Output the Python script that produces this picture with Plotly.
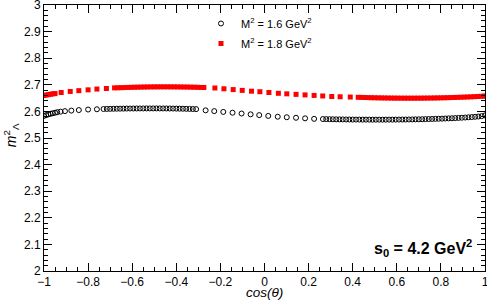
import plotly.graph_objects as go

# M^2 = 1.6 GeV^2 (black open circles)
cos_16 = [-1.00, -0.99, -0.98, -0.97, -0.96, -0.95, -0.94,
          -0.925, -0.905, -0.876, -0.842, -0.80, -0.76,
          -0.73, -0.715, -0.70, -0.685, -0.67, -0.655, -0.64, -0.625, -0.61, -0.595,
          -0.58, -0.565, -0.55, -0.535, -0.52, -0.505, -0.49, -0.475, -0.46, -0.445,
          -0.43, -0.415, -0.40, -0.385, -0.37, -0.355, -0.34, -0.325, -0.31,
          -0.267, -0.228, -0.187, -0.145, -0.104, -0.063, -0.024, 0.017, 0.060, 0.101,
          0.143, 0.184, 0.225,
          0.265, 0.28, 0.295, 0.31, 0.325, 0.34, 0.355, 0.37, 0.385, 0.40,
          0.415, 0.43, 0.445, 0.46, 0.475, 0.49, 0.505, 0.52, 0.535, 0.55,
          0.565, 0.58, 0.595, 0.61, 0.625, 0.64, 0.655, 0.67, 0.685, 0.70,
          0.715, 0.73, 0.745, 0.76, 0.775, 0.79, 0.805, 0.82, 0.835, 0.85,
          0.865, 0.88, 0.895, 0.91, 0.925, 0.94, 0.955, 0.97, 0.985, 1.0]
m2_16 = [2.583, 2.586, 2.589, 2.591, 2.593, 2.595, 2.597,
         2.599, 2.601, 2.603, 2.605, 2.607, 2.608,
         2.6090, 2.6093, 2.6096, 2.6099, 2.6101, 2.6103, 2.6105, 2.6107, 2.6108, 2.6109,
         2.6110, 2.6111, 2.6111, 2.6112, 2.6112, 2.6112, 2.6112, 2.6111, 2.6111, 2.6110,
         2.6109, 2.6107, 2.6105, 2.6103, 2.6100, 2.6097, 2.6094, 2.6090, 2.6086,
         2.604, 2.601, 2.598, 2.595, 2.592, 2.589, 2.586, 2.583, 2.580, 2.578,
         2.576, 2.574, 2.572,
         2.5712, 2.5709, 2.5706, 2.5704, 2.5702, 2.5700, 2.5698, 2.5697, 2.5695, 2.5694,
         2.5693, 2.5692, 2.5691, 2.5691, 2.5690, 2.5690, 2.5690, 2.5690, 2.5690, 2.5690,
         2.5691, 2.5691, 2.5692, 2.5693, 2.5694, 2.5695, 2.5697, 2.5699, 2.5701, 2.5703,
         2.5706, 2.5709, 2.5712, 2.5716, 2.5720, 2.5724, 2.5728, 2.5733, 2.5738, 2.5743,
         2.5749, 2.5755, 2.5762, 2.5770, 2.5778, 2.5787, 2.5797, 2.5808, 2.5822, 2.5850]

# M^2 = 1.8 GeV^2 (red squares)
cos_18 = [-1.00, -0.99, -0.98, -0.97, -0.96, -0.95,
          -0.922, -0.881, -0.842, -0.800, -0.760, -0.717,
          -0.68, -0.665, -0.65, -0.635, -0.62, -0.605, -0.59, -0.575, -0.56, -0.545,
          -0.53, -0.515, -0.50, -0.485, -0.47, -0.455, -0.44, -0.425, -0.41, -0.395,
          -0.38, -0.365, -0.35, -0.335, -0.32, -0.305, -0.29, -0.275,
          -0.225, -0.184, -0.142, -0.101, -0.059, -0.021, 0.020, 0.063, 0.101, 0.143,
          0.184, 0.225, 0.264, 0.305, 0.343, 0.389,
          0.425, 0.44, 0.455, 0.47, 0.485, 0.50, 0.515, 0.53, 0.545, 0.56,
          0.575, 0.59, 0.605, 0.62, 0.635, 0.65, 0.665, 0.68, 0.695, 0.71,
          0.725, 0.74, 0.755, 0.77, 0.785, 0.80, 0.815, 0.83, 0.845, 0.86,
          0.875, 0.89, 0.905, 0.92, 0.935, 0.95, 0.965, 0.98, 0.995, 1.0]
m2_18 = [2.660, 2.6615, 2.663, 2.6645, 2.666, 2.667,
         2.671, 2.675, 2.678, 2.681, 2.684, 2.686,
         2.6885, 2.6889, 2.6893, 2.6897, 2.6901, 2.6905, 2.6908, 2.6911, 2.6914, 2.6917,
         2.6919, 2.6921, 2.6922, 2.6923, 2.6924, 2.6924, 2.6924, 2.6923, 2.6922, 2.6921,
         2.6919, 2.6917, 2.6915, 2.6912, 2.6909, 2.6906, 2.6902, 2.6898,
         2.688, 2.685, 2.682, 2.679, 2.676, 2.674, 2.671, 2.668, 2.666, 2.664,
         2.662, 2.660, 2.658, 2.656, 2.655, 2.654,
         2.6530, 2.6526, 2.6522, 2.6518, 2.6515, 2.6512, 2.6509, 2.6507, 2.6505, 2.6503,
         2.6501, 2.6500, 2.6499, 2.6498, 2.6497, 2.6497, 2.6497, 2.6497, 2.6498, 2.6499,
         2.6500, 2.6501, 2.6503, 2.6505, 2.6507, 2.6510, 2.6513, 2.6516, 2.6520, 2.6524,
         2.6528, 2.6532, 2.6537, 2.6542, 2.6547, 2.6553, 2.6559, 2.6566, 2.6573, 2.6576]

series_names = ["M<sup>2</sup> = 1.6 GeV<sup>2</sup>", "M<sup>2</sup> = 1.8 GeV<sup>2</sup>"]
x_range = [-1, 1]
y_range = [2, 3]

FONT = "Liberation Sans, Arial, Helvetica, sans-serif"

fig = go.Figure()
fig.add_trace(go.Scatter(
    x=cos_16, y=m2_16, mode="markers", name=series_names[0], legendgroup="a",
    marker=dict(symbol="circle-open", size=5, color="black", line=dict(width=1, color="black")),
))
fig.add_trace(go.Scatter(
    x=cos_18, y=m2_18, mode="markers", name=series_names[1], legendgroup="b",
    marker=dict(symbol="square", size=5, color="#ff0000", line=dict(width=0)),
))

axis_common = dict(
    showline=True, linecolor="black", linewidth=1, mirror="ticks",
    ticks="inside", ticklen=8, tickwidth=1, tickcolor="black",
    showgrid=False, zeroline=False, automargin=False,
    ticklabeloverflow="allow",
    tickfont=dict(family=FONT, size=12, color="black"),
)

fig.update_xaxes(range=x_range, dtick=0.2, tick0=-1,
                 minor=dict(ticks="inside", ticklen=4, dtick=0.05, tickcolor="black", showgrid=False),
                 **axis_common)
fig.update_yaxes(range=y_range, dtick=0.1, tick0=2,
                 minor=dict(ticks="inside", ticklen=4, dtick=0.02, tickcolor="black", showgrid=False),
                 **axis_common)

fig.update_layout(
    width=487, height=305,
    margin=dict(l=44, r=2, t=5, b=34),
    paper_bgcolor="white", plot_bgcolor="white",
    font=dict(family=FONT, color="black"),
    showlegend=True,
    legend=dict(x=0.356, y=0.985, xanchor="left", yanchor="top",
                bgcolor="rgba(0,0,0,0)", borderwidth=0,
                font=dict(family=FONT, size=11, color="black"),
                tracegroupgap=1, traceorder="grouped", itemwidth=30),
    annotations=[
        dict(text="<b>s<sub>0</sub> = 4.2 GeV<sup>2</sup></b>", xref="paper", yref="paper",
             x=0.975, y=0.085, xanchor="right", yanchor="middle", showarrow=False,
             font=dict(family=FONT, size=16, color="black")),
        dict(text="<i>cos(θ)</i>", xref="paper", yref="paper",
             x=0.5, y=-0.081, xanchor="center", yanchor="middle", showarrow=False,
             font=dict(family=FONT, size=13.5, color="black")),
        dict(text="<i>m</i><sup>2</sup><sub>Λ</sub>", xref="paper", yref="paper",
             x=-0.073, y=0.51, xanchor="center", yanchor="middle", showarrow=False,
             textangle=-90, font=dict(family=FONT, size=14, color="black")),
    ],
)

fig.write_html(
    "out.html",
    config={"displayModeBar": False},
    post_script="document.body.style.margin='0';document.body.style.padding='0';"
                "document.body.style.overflow='hidden';",
)
